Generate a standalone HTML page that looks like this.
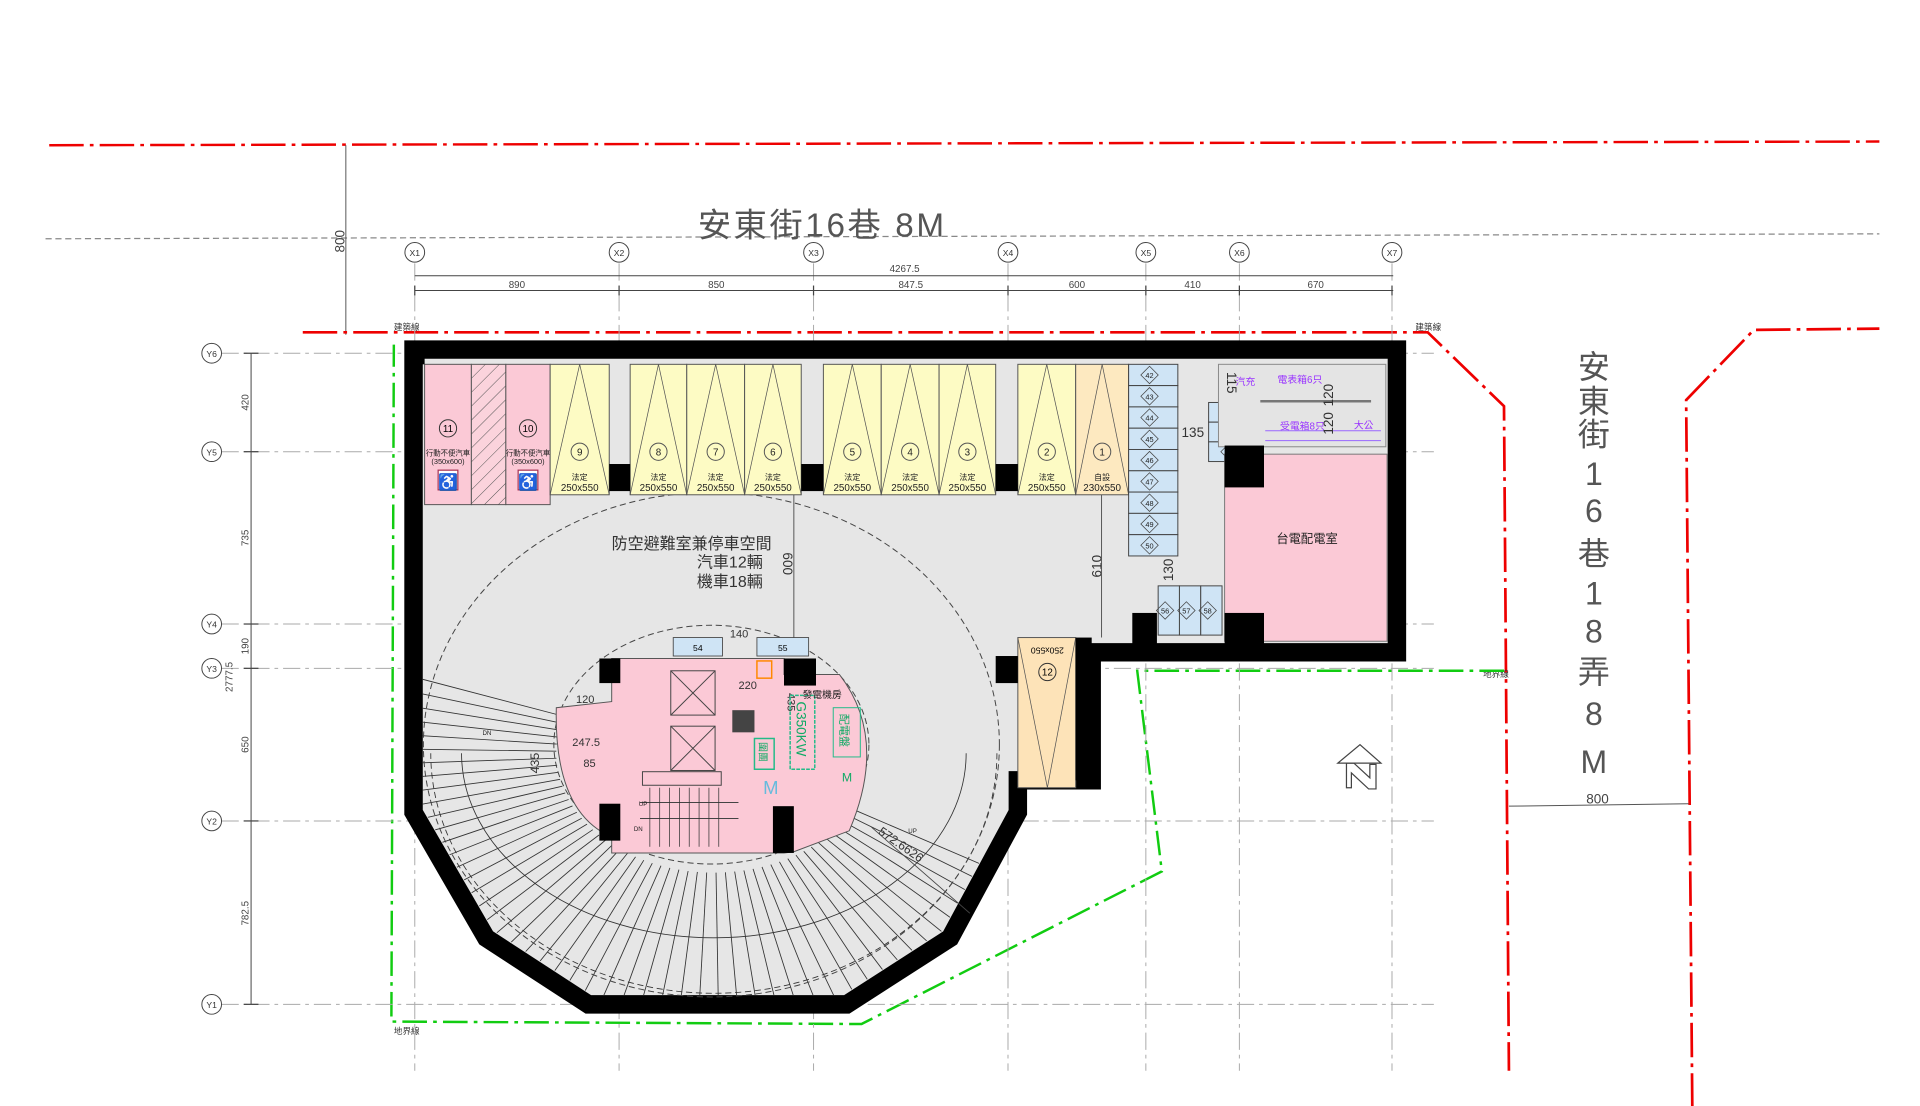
<!DOCTYPE html>
<html><head><meta charset="utf-8">
<style>
html,body{margin:0;padding:0;background:#fff;}
svg{display:block;}
text{font-family:"Liberation Sans","Noto Sans CJK TC",sans-serif;}
</style></head>
<body>
<svg id="s" width="1920" height="1106" viewBox="0 0 1560 898.6" preserveAspectRatio="none" xmlns="http://www.w3.org/2000/svg">
<defs>
<clipPath id="inner"><polygon points="343,291 1128,291 1128,523 880,523 880,627 820,627 820,656 766,756 684,809 482,809 401,756 343,656"/></clipPath>
<pattern id="hatch" width="8" height="8" patternUnits="userSpaceOnUse" patternTransform="rotate(45)"><rect width="8" height="8" fill="#fbd3dc"/><line x1="0" y1="0" x2="0" y2="8" stroke="#555" stroke-width="0.8"/></pattern>
</defs>
<rect width="1560" height="898.6" fill="#fff"/>

<line x1="40" y1="118" x2="1527" y2="115" stroke="#e00" stroke-width="2" stroke-dasharray="28,5,3,5"/>
<line x1="37" y1="194" x2="1527" y2="190" stroke="#888" stroke-width="1" stroke-dasharray="5,3"/>
<text x="567" y="192" font-size="27" fill="#555" textLength="200" lengthAdjust="spacing">安東街16巷 8M</text>
<line x1="281" y1="118" x2="281" y2="272" stroke="#555" stroke-width="0.8"/>
<text x="280" y="196" font-size="11" fill="#444" transform="rotate(-90 280 196)" text-anchor="middle">800</text>

<polyline points="246,270 1160,270 1222,330 1226,870" fill="none" stroke="#e00" stroke-width="2.2" stroke-dasharray="28,5,3,5"/>
<polyline points="1375,900 1370,325 1425,268 1527,267" fill="none" stroke="#e00" stroke-width="2.2" stroke-dasharray="28,5,3,5"/>
<line x1="1226" y1="655" x2="1372" y2="653" stroke="#555" stroke-width="0.8"/>
<text x="1298" y="653" font-size="11" fill="#444" text-anchor="middle">800</text>
<text font-size="7" fill="#333" x="320" y="268">建築線</text>
<text font-size="7" fill="#333" x="1150" y="268">建築線</text>
<text font-size="7" fill="#333" x="1205" y="550">地界線</text>
<text font-size="7" fill="#333" x="320" y="840">地界線</text>

<polyline points="1222,545 924,545 944,708 700,832 318,830 320,280" fill="none" stroke="#1c1" stroke-width="2" stroke-dasharray="20,5,3,5"/>

<g id="grid" stroke="#aaa" stroke-width="0.8" stroke-dasharray="14,4,3,4"></g>

<g stroke="#444" stroke-width="0.8">
<line x1="337" y1="224" x2="1132" y2="224"/>
<line x1="337" y1="236" x2="1132" y2="236"/>
</g>
<g font-size="8" fill="#444" text-anchor="middle">
<text x="735" y="221">4267.5</text>
<text x="420" y="234">890</text><text x="582" y="234">850</text><text x="740" y="234">847.5</text>
<text x="875" y="234">600</text><text x="969" y="234">410</text><text x="1069" y="234">670</text>
</g>
<line x1="204" y1="287" x2="204" y2="816" stroke="#444" stroke-width="0.8"/>
<g font-size="8" fill="#444" text-anchor="middle">
<text transform="translate(202,327) rotate(-90)">420</text>
<text transform="translate(202,437) rotate(-90)">735</text>
<text transform="translate(202,525) rotate(-90)">190</text>
<text transform="translate(189,550) rotate(-90)">2777.5</text>
<text transform="translate(202,605) rotate(-90)">650</text>
<text transform="translate(202,742) rotate(-90)">782.5</text>
</g>

<polygon points="336,284 1135,284 1135,530 887,530 887,634 827,634 827,660 772,762 688,816 478,816 395,762 336,660" fill="#e6e6e6" stroke="#000" stroke-width="15" stroke-linejoin="miter"/>

<g id="stairs" clip-path="url(#inner)" stroke="#333" stroke-width="0.7" fill="none"></g>
<ellipse cx="578" cy="605" rx="234" ry="205" fill="none" stroke="#444" stroke-width="0.8" stroke-dasharray="5,3"/>
<ellipse cx="578" cy="605" rx="128" ry="97" fill="none" stroke="#444" stroke-width="0.8" stroke-dasharray="5,3"/>

<g stroke="#555" stroke-width="0.8">
<rect x="345" y="296" width="38" height="114" fill="#fbc9d6"/>
<rect x="383" y="296" width="28" height="114" fill="url(#hatch)"/>
<rect x="411" y="296" width="36" height="114" fill="#fbc9d6"/>
</g>
<g id="stalls" stroke="#555" stroke-width="0.8"></g>
<g fill="#000">
<rect x="495" y="377" width="17" height="22"/><rect x="651" y="377" width="18" height="22"/><rect x="809" y="377" width="18" height="22"/>
<rect x="329" y="284" width="16" height="12"/>
</g>
<g font-size="6" fill="#222" text-anchor="middle">
<text x="364" y="370">行動不便汽車</text><text x="364" y="377">(350x600)</text>
<text x="429" y="370">行動不便汽車</text><text x="429" y="377">(350x600)</text>
</g>
<g fill="#fff" stroke="#a35" stroke-width="1"><rect x="356" y="382" width="16" height="16"/><rect x="421" y="382" width="16" height="16"/></g>
<text x="364" y="396" font-size="13" text-anchor="middle" fill="#223">♿</text>
<text x="429" y="396" font-size="13" text-anchor="middle" fill="#223">♿</text>
<g fill="none" stroke="#333" stroke-width="0.8"><circle cx="364" cy="348" r="7"/><circle cx="429" cy="348" r="7"/></g>
<text x="364" y="351" font-size="8" text-anchor="middle">11</text>
<text x="429" y="351" font-size="8" text-anchor="middle">10</text>

<g id="moto" stroke="#444" stroke-width="0.8"></g>

<g stroke="#96f" stroke-width="0.8" fill="none">
<rect x="990" y="296" width="136" height="67" fill="#e4e4e4" stroke="#888"/>
<line x1="1024" y1="326" x2="1114" y2="326" stroke="#777" stroke-width="2"/>
<line x1="1028" y1="358" x2="1122" y2="358"/>
<line x1="1028" y1="350" x2="1122" y2="350"/>
</g>
<g font-size="8" fill="#93f"><text x="1004" y="313">汽充</text><text x="1038" y="311">電表箱6只</text><text x="1040" y="349">受電箱8只</text><text x="1100" y="348">大公</text></g>
<g font-size="11" fill="#333">
<text transform="translate(1083,321) rotate(-90)" text-anchor="middle">120</text>
<text transform="translate(1083,344) rotate(-90)" text-anchor="middle">120</text>
<text transform="translate(997,311) rotate(90)" text-anchor="middle">115</text>
<text x="960" y="355">135</text>
<text transform="translate(953,463) rotate(-90)" text-anchor="middle">130</text>
<text transform="translate(895,460) rotate(-90)" text-anchor="middle">610</text>
<text transform="translate(636,458) rotate(90)" text-anchor="middle">600</text>
</g>
<line x1="895" y1="402" x2="895" y2="518" stroke="#555" stroke-width="0.8"/>
<line x1="645" y1="402" x2="645" y2="518" stroke="#555" stroke-width="0.8"/>
<rect x="995" y="369" width="132" height="152" fill="#fbc9d6" stroke="#777" stroke-width="0.8"/>
<rect x="995" y="362" width="32" height="34" fill="#000"/>
<rect x="995" y="498" width="32" height="32" fill="#000"/>
<rect x="920" y="498" width="20" height="32" fill="#000"/>
<text x="1062" y="441" font-size="10" fill="#222" text-anchor="middle">台電配電室</text>

<rect x="827" y="518" width="47" height="122" fill="#fde3b8" stroke="#555" stroke-width="0.8"/>
<polyline points="827,518 851,640 874,518" fill="none" stroke="#555" stroke-width="0.6"/>
<circle cx="851" cy="546" r="7" fill="none" stroke="#333" stroke-width="0.8"/><text x="851" y="549" font-size="8" text-anchor="middle">12</text>
<text x="851" y="530" font-size="7" text-anchor="middle" transform="rotate(180 851 528)">250x550</text>
<rect x="809" y="533" width="18" height="22" fill="#000"/>
<rect x="874" y="518" width="13" height="116" fill="#000"/>

<path d="M497,535 L637,535 L637,548 L682,548 Q722,600 690,675 L645,692 L637,693 L497,693 L497,680 Q450,660 452,575 L497,570 Z" fill="#fbc9d6" stroke="#555" stroke-width="0.8"/>
<g fill="none" stroke="#444" stroke-width="0.8">
<rect x="545" y="545" width="36" height="36"/><line x1="545" y1="545" x2="581" y2="581"/><line x1="581" y1="545" x2="545" y2="581"/>
<rect x="545" y="590" width="36" height="36"/><line x1="545" y1="590" x2="581" y2="626"/><line x1="581" y1="590" x2="545" y2="626"/>
<rect x="522" y="627" width="64" height="11"/>
<path d="M520,652 H600 M520,665 H600"/>
</g>
<g stroke="#333" stroke-width="0.6" id="steps"></g>
<rect x="595" y="577" width="18" height="18" fill="#444"/>
<rect x="615" y="537" width="12" height="14" fill="none" stroke="#f80" stroke-width="1.2"/>
<g fill="#000"><rect x="487" y="535" width="17" height="20"/><rect x="637" y="535" width="26" height="22"/><rect x="487" y="653" width="17" height="30"/><rect x="628" y="655" width="17" height="38"/></g>
<rect x="547" y="518" width="40" height="15" fill="#cfe4f5" stroke="#444" stroke-width="0.7"/>
<rect x="615" y="518" width="42" height="15" fill="#cfe4f5" stroke="#444" stroke-width="0.7"/>
<text x="567" y="529" font-size="7" text-anchor="middle">54</text><text x="636" y="529" font-size="7" text-anchor="middle">55</text>
<g font-size="9" fill="#333"><text x="593" y="518">140</text><text x="600" y="560">220</text><text x="468" y="571">120</text><text x="465" y="606">247.5</text><text x="474" y="623">85</text></g>
<text transform="translate(640,563) rotate(90)" font-size="9" fill="#333">435</text>
<text transform="translate(438,620) rotate(-90)" font-size="10" fill="#333" text-anchor="middle">435</text>
<rect x="642" y="565" width="20" height="60" fill="none" stroke="#2b8" stroke-width="1.2" stroke-dasharray="3,1"/>
<text transform="translate(647,570) rotate(90)" font-size="11" fill="#1a6">G350KW</text>
<rect x="677" y="575" width="22" height="40" fill="none" stroke="#2b8" stroke-width="0.8"/>
<text transform="translate(683,580) rotate(90)" font-size="9" fill="#1a6">配電盤</text>
<rect x="613" y="600" width="16" height="25" fill="none" stroke="#2b8" stroke-width="1.2"/>
<text transform="translate(617,603) rotate(90)" font-size="8" fill="#1a6">圍團</text>
<text x="620" y="645" font-size="15" fill="#6bd">M</text>
<text x="684" y="635" font-size="10" fill="#1a6">M</text>
<text x="652" y="567" font-size="8" fill="#222">發電機房</text>
<g font-size="5" fill="#222"><text x="519" y="655">UP</text><text x="515" y="675">DN</text><text x="392" y="597">DN</text><text x="738" y="677">UP</text></g>
<text transform="translate(713,677) rotate(35)" font-size="10" fill="#333">572.6626</text>
<line x1="708" y1="672" x2="788" y2="742" stroke="#444" stroke-width="0.7"/>

<g font-size="13" fill="#333" text-anchor="middle">
<text x="562" y="446">防空避難室兼停車空間</text>
<text x="593" y="461">汽車12輛</text>
<text x="593" y="477">機車18輛</text>
</g>

<g fill="none" stroke="#444" stroke-width="1"><polygon points="1087,620 1105,605 1122,620"/><path d="M1094,620 L1094,640 L1098,640 L1098,628 L1112,641 L1118,641 L1118,621 L1113,621 L1113,632 L1100,620 Z"/></g>

<g font-size="26" fill="#555" text-anchor="middle">
<text x="1295" y="307">安</text><text x="1295" y="335">東</text><text x="1295" y="362">街</text>
<text x="1295" y="394">1</text><text x="1295" y="424">6</text><text x="1295" y="459">巷</text>
<text x="1295" y="491">1</text><text x="1295" y="522">8</text><text x="1295" y="555">弄</text>
<text x="1295" y="589">8</text><text x="1295" y="628">M</text>
</g>

<g id="circles" font-size="7" fill="#333" text-anchor="middle"></g>

<script>
var NS="http://www.w3.org/2000/svg";
function el(p,t,a,txt){var e=document.createElementNS(NS,t);for(var k in a)e.setAttribute(k,a[k]);if(txt!=null)e.textContent=txt;p.appendChild(e);return e;}
var g=document.getElementById('grid');
var X=[337,503,661,819,931,1007,1131],Y=[287,367,507,543,667,816];
X.forEach(function(x){el(g,'line',{x1:x,y1:214,x2:x,y2:870});});
Y.forEach(function(y){el(g,'line',{x1:180,y1:y,x2:1165,y2:y});});
var c=document.getElementById('circles');
X.forEach(function(x,i){el(c,'circle',{cx:x,cy:205,r:8,fill:'#fff',stroke:'#444','stroke-width':0.8});el(c,'text',{x:x,y:208},'X'+(i+1));
 el(c,'line',{x1:x,y1:232,x2:x,y2:240,stroke:'#444','stroke-width':1});});
Y.forEach(function(y,i){el(c,'circle',{cx:172,cy:y,r:8,fill:'#fff',stroke:'#444','stroke-width':0.8});el(c,'text',{x:172,y:y+3},'Y'+(6-i));
 el(c,'line',{x1:198,y1:y,x2:210,y2:y,stroke:'#444','stroke-width':1});});
var st=document.getElementById('stalls');
var S=[[447,495,'9'],[512,558,'8'],[558,605,'7'],[605,651,'6'],[669,716,'5'],[716,763,'4'],[763,809,'3'],[827,874,'2'],[874,917,'1']];
S.forEach(function(s){var x1=s[0],x2=s[1],m=(x1+x2)/2;
 el(st,'rect',{x:x1,y:296,width:x2-x1,height:106,fill:s[2]=='1'?'#fde9c0':'#fdfbc4'});
 el(st,'polyline',{points:x1+',402 '+m+',296 '+x2+',402',fill:'none','stroke-width':0.6});
 el(st,'circle',{cx:m,cy:367,r:7,fill:'none'});
 el(st,'text',{x:m,y:370,'font-size':8,'text-anchor':'middle',stroke:'none',fill:'#222'},s[2]);
 el(st,'text',{x:m,y:390,'font-size':6.5,'text-anchor':'middle',stroke:'none',fill:'#222'},s[2]=='1'?'自設':'法定');
 el(st,'text',{x:m,y:399,'font-size':8,'text-anchor':'middle',stroke:'none',fill:'#222','font-family':'Liberation Serif'},s[2]=='1'?'230x550':'250x550');
});
var mo=document.getElementById('moto');
function box(x,y,w,h,n){el(mo,'rect',{x:x,y:y,width:w,height:h,fill:'#cfe4f5'});
 el(mo,'rect',{x:x+w/2-8,y:y+h/2-5,width:10,height:10,fill:'none','stroke-width':0.6,transform:'rotate(45 '+(x+w/2-3)+' '+(y+h/2)+')'});
 el(mo,'text',{x:x+w/2-3,y:y+h/2+2.5,'font-size':6,'text-anchor':'middle',stroke:'none',fill:'#222'},n);}
for(var i=0;i<9;i++)box(917,296+i*17.3,40,17.3,42+i);
for(var i=0;i<3;i++)box(982,327+i*16,40,16,51+i);
for(var i=0;i<3;i++)box(941+i*17.3,476,17.3,40,56+i);
var sg=document.getElementById('stairs');
var cx=580,cy=612;
for(var a=28;a<=200;a+=3.4){var r=a*Math.PI/180,co=Math.cos(r),si=Math.sin(r);
 el(sg,'line',{x1:cx+128*co,y1:cy+97*si,x2:cx+330*co,y2:cy+260*si});}
el(sg,'path',{d:'M'+(cx+205)+','+cy+' A205,150 0 0 1 '+(cx-205)+','+cy});
el(sg,'path',{d:'M'+(cx+230)+','+cy+' A230,195 0 0 1 '+(cx-230)+','+cy,'stroke-dasharray':'5,3'});
var sp=document.getElementById('steps');
for(var i=0;i<8;i++){var x=528+i*8;el(sp,'line',{x1:x,y1:640,x2:x,y2:688});}
</script>
</svg>
</body></html>
